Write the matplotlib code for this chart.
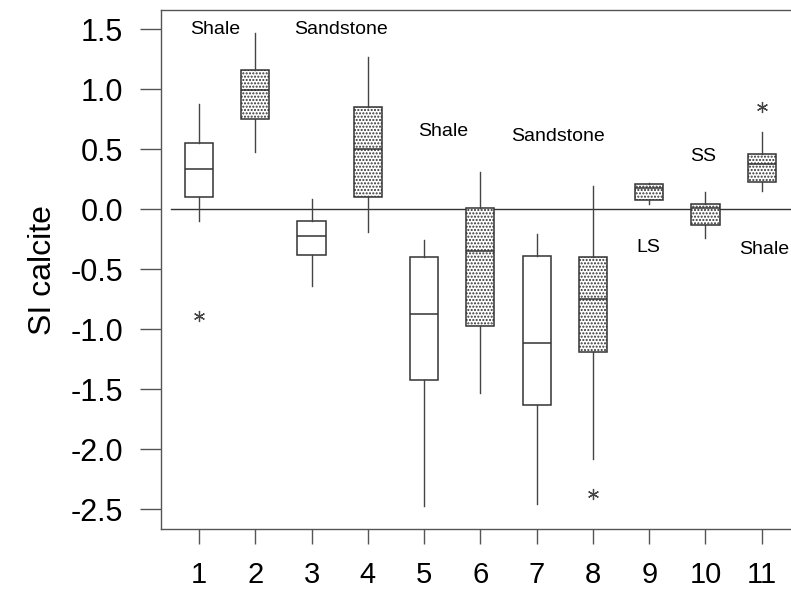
import numpy as np
import matplotlib.pyplot as plt

plt.rcParams['font.family'] = ['Liberation Sans', 'DejaVu Sans']
plt.rcParams['hatch.linewidth'] = 1.0
plt.rcParams['hatch.color'] = '#222222'

# box statistics (SI calcite)
groups = [1, 2, 3, 4, 5, 6, 7, 8, 9, 10, 11]
whis_lo = [-0.10, 0.475, -0.64, -0.19, -2.47, -1.53, -2.46, -2.08, 0.04, -0.24, 0.155]
q1 = [0.105, 0.75, -0.38, 0.105, -1.42, -0.97, -1.635, -1.19, 0.08, -0.13, 0.23]
median = [0.333, 0.99, -0.22, 0.50, -0.87, -0.345, -1.115, -0.75, 0.18, 0.01, 0.375]
q3 = [0.555, 1.16, -0.095, 0.85, -0.395, 0.01, -0.386, -0.395, 0.21, 0.04, 0.46]
whis_hi = [0.875, 1.465, 0.085, 1.27, -0.26, 0.31, -0.21, 0.19, 0.22, 0.14, 0.64]
outliers = [[-0.887], [], [], [], [], [], [], [-2.375], [], [], [0.85]]
stippled = [False, True, False, True, False, True, False, True, True, True, True]

# lithology labels
litho_text = ['Shale', 'Sandstone', 'Shale', 'Sandstone', 'SS', 'LS', 'Shale']
litho_x = [1.29, 3.515, 5.34, 7.38, 9.966, 8.99, 10.60]
litho_y = [1.494, 1.494, 0.644, 0.605, 0.438, -0.3225, -0.339]
litho_ha = ['center'] * 6 + ['left']

stats = []
for i in range(len(groups)):
    stats.append(dict(whislo=whis_lo[i], q1=q1[i], med=median[i], q3=q3[i],
                      whishi=whis_hi[i], fliers=outliers[i]))

fig = plt.figure(figsize=(7.91, 5.92), dpi=100)
ax = fig.add_axes([0.2032, 0.1059, 0.7968, 0.8772])

line_c = '#333333'
bp = ax.bxp(stats, positions=groups, widths=0.5, patch_artist=True, showcaps=False,
            boxprops=dict(facecolor='white', edgecolor=line_c, linewidth=1.1),
            medianprops=dict(color=line_c, linewidth=1.1),
            whiskerprops=dict(color='#444444', linewidth=1.0),
            flierprops=dict(marker=(6, 2, 0), markersize=8, markeredgecolor='#444444',
                            markeredgewidth=0.9, linestyle='none'))
for patch, st in zip(bp['boxes'], stippled):
    if st:
        patch.set_hatch('.....')

# zero reference line
ax.plot([0.5, 11.6], [0, 0], color='#333333', lw=1.0, zorder=1)

for t, x, y, ha in zip(litho_text, litho_x, litho_y, litho_ha):
    ax.text(x, y, t, ha=ha, va='center', fontsize=14, clip_on=False)

ax.set_xlim(0.32, 11.52)
ax.set_ylim(-2.667, 1.66)
ax.set_yticks([1.5, 1.0, 0.5, 0.0, -0.5, -1.0, -1.5, -2.0, -2.5])
ax.set_yticklabels(['%.1f' % v for v in [1.5, 1.0, 0.5, 0.0, -0.5, -1.0, -1.5, -2.0, -2.5]])
ax.set_xticks(groups)
ax.set_xticklabels([str(g) for g in groups])
ax.tick_params(axis='y', length=15, width=1, color='#555555', pad=12, labelsize=22)
ax.tick_params(axis='x', length=11, width=1, color='#555555', pad=12, labelsize=21)
for side in ['left', 'bottom', 'top']:
    ax.spines[side].set_color('#555555')
    ax.spines[side].set_linewidth(1.0)
ax.spines['right'].set_visible(False)
ax.set_ylabel('SI calcite', fontsize=23, labelpad=9)

fig.savefig('out.png', dpi=100)
